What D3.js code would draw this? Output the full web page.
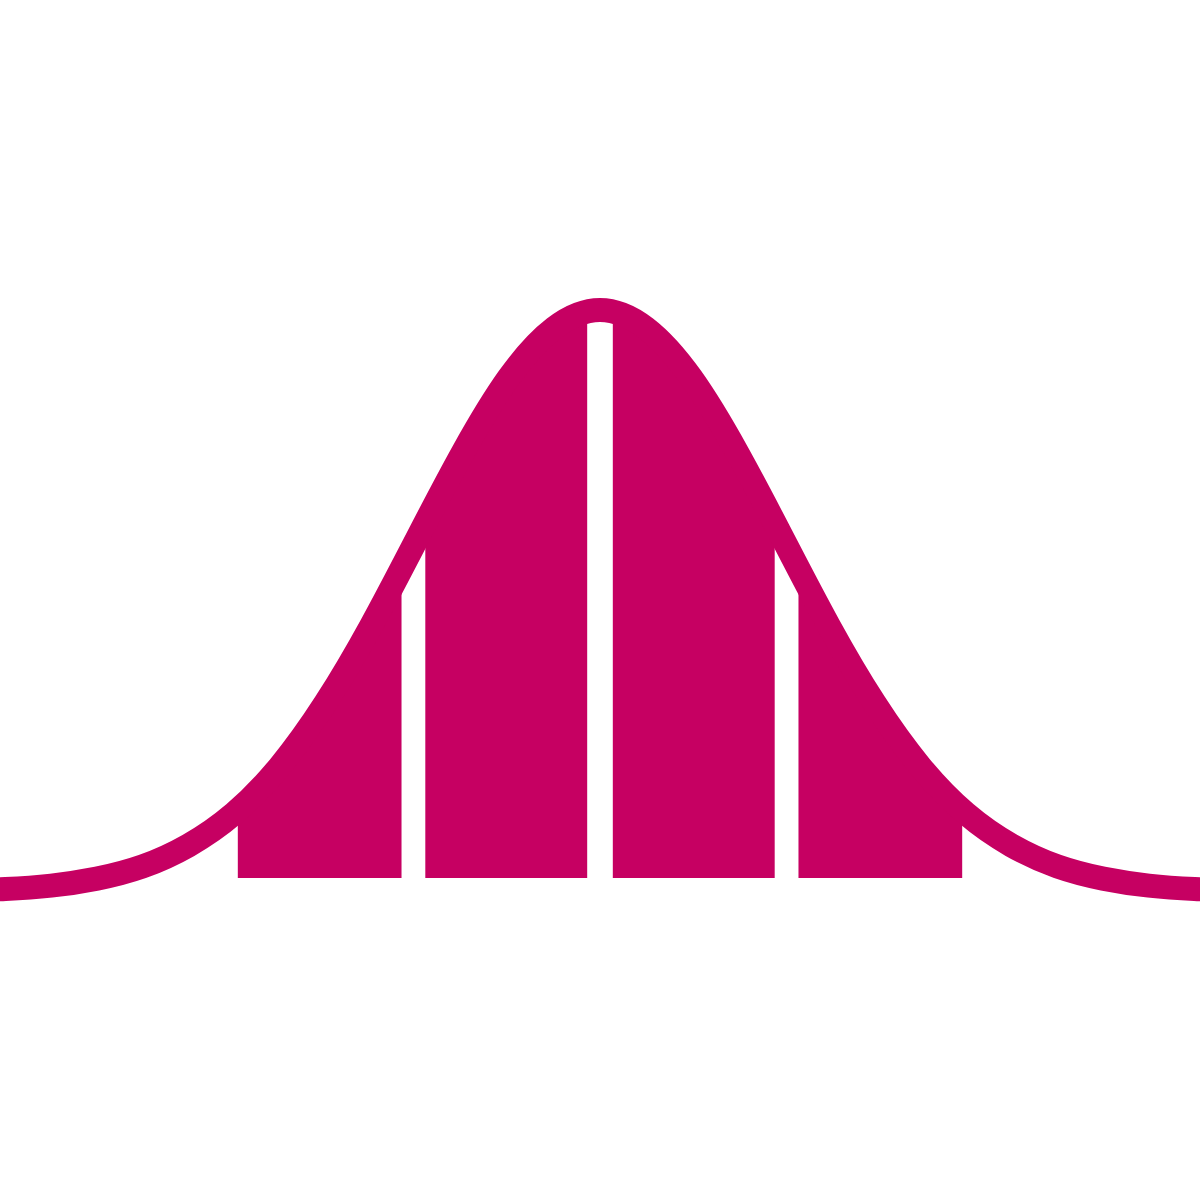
<!DOCTYPE html>
<html>
<head>
<meta charset="utf-8">
<script src="https://cdn.jsdelivr.net/npm/d3@7"></script>
<style>
  html, body { margin: 0; padding: 0; background: #fff; }
  svg { display: block; }
</style>
</head>
<body>
<div id="chart"></div>
<script>
// bell curve (x in standard deviations, height relative to peak)
const curveX = [-3.5, -3.25, -3, -2.75, -2.5, -2.25, -2, -1.75, -1.5, -1.25, -1, -0.75, -0.5, -0.25,
  0, 0.25, 0.5, 0.75, 1, 1.25, 1.5, 1.75, 2, 2.25, 2.5, 2.75, 3, 3.25, 3.5];
const curveY = [0.002, 0.005, 0.011, 0.023, 0.044, 0.08, 0.135, 0.216, 0.325, 0.458, 0.607, 0.755, 0.883, 0.969,
  1, 0.969, 0.883, 0.755, 0.607, 0.458, 0.325, 0.216, 0.135, 0.08, 0.044, 0.023, 0.011, 0.005, 0.002];

// shaded bands under the curve
const bandStart = [-1.98, -0.955, 0.07, 1.085];
const bandEnd = [-1.085, -0.07, 0.955, 1.98];

const width = 1200;
const height = 1200;
const color = "#c60062";

const svg = d3.select("#chart")
  .append("svg")
  .attr("width", width)
  .attr("height", height);

const x = d3.scaleLinear().domain([-3.28, 3.28]).range([0, width]);
const y = d3.scaleLinear().domain([0, 1]).range([892, 310]);

const points = curveX.map((v, i) => [v, curveY[i]]);
const fillBottom = y(0) - 14;

const line = d3.line()
  .x(d => x(d[0]))
  .y(d => y(d[1]))
  .curve(d3.curveNatural);

const area = d3.area()
  .x(d => x(d[0]))
  .y0(fillBottom)
  .y1(d => y(d[1]))
  .curve(d3.curveNatural);

const clip = svg.append("defs")
  .append("clipPath")
  .attr("id", "bands");

clip.selectAll("rect")
  .data(bandStart)
  .enter()
  .append("rect")
  .attr("x", d => x(d))
  .attr("y", 0)
  .attr("width", (d, i) => x(bandEnd[i]) - x(d))
  .attr("height", fillBottom);

svg.append("path")
  .datum(points)
  .attr("d", area)
  .attr("fill", color)
  .attr("clip-path", "url(#bands)");

svg.append("path")
  .datum(points)
  .attr("d", line)
  .attr("fill", "none")
  .attr("stroke", color)
  .attr("stroke-width", 24);
</script>
</body>
</html>
